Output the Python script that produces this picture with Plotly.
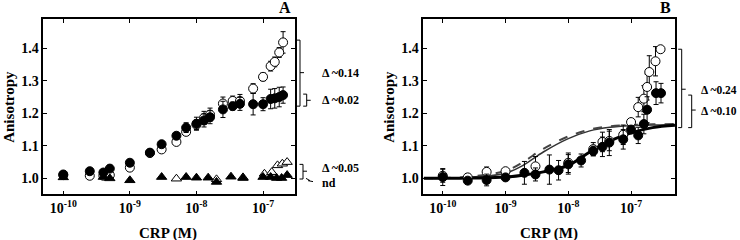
import plotly.graph_objects as go

# ---------------- Panel A data ----------------
xA_fc = [1e-10, 2.5e-10, 4e-10, 5e-10, 1e-9, 2e-9, 3e-9, 5e-9, 7e-9, 1e-8, 1.3e-8, 1.6e-8,
         2.5e-8, 3.5e-8, 4.5e-8, 7.1e-8, 1e-7, 1.3e-7, 1.5e-7, 1.75e-7, 2e-7]
yA_fc = [1.012, 1.022, 1.018, 1.03, 1.048, 1.079, 1.105, 1.131, 1.156, 1.168, 1.178, 1.188,
         1.212, 1.222, 1.229, 1.228, 1.228, 1.244, 1.246, 1.25, 1.256]
eA_fc = [0.006, 0.006, 0.006, 0.008, 0.008, 0.008, 0.008, 0.01, 0.015, 0.02, 0.02, 0.02,
         0.025, 0.012, 0.02, 0.033, 0.02, 0.03, 0.03, 0.03, 0.025]

xA_oc = [1e-10, 2.5e-10, 4e-10, 5e-10, 1e-9, 2e-9, 3e-9, 5e-9, 7e-9, 1e-8, 1.3e-8, 1.6e-8,
         2.5e-8, 3.5e-8, 4.5e-8, 7.1e-8, 1e-7, 1.3e-7, 1.5e-7, 1.75e-7, 2e-7]
yA_oc = [1.01, 1.008, 1.008, 1.01, 1.033, 1.078, 1.089, 1.112, 1.143, 1.165, 1.186, 1.196,
         1.23, 1.238, 1.238, 1.276, 1.312, 1.345, 1.358, 1.387, 1.418]
eA_oc = [0.005, 0.005, 0.005, 0.005, 0.006, 0.006, 0.006, 0.008, 0.01, 0.015, 0.02, 0.02,
         0.02, 0.015, 0.02, 0.015, 0.012, 0.015, 0.015, 0.015, 0.033]

xA_ft = [1e-10, 4e-10, 5e-10, 1e-9, 3e-9, 7e-9, 1e-8, 1.5e-8, 2e-8, 3.3e-8, 5e-8,
         1e-7, 1.3e-7, 1.6e-7, 1.9e-7, 2.3e-7]
yA_ft = [1.003, 1.004, 1.0, 0.994, 1.004, 1.004, 1.002, 1.002, 0.989, 1.005, 1.001,
         1.004, 1.004, 1.001, 1.001, 1.01]

xA_ot = [5e-9, 2e-8, 5e-8, 1.05e-7, 1.35e-7, 1.65e-7, 1.95e-7, 2.3e-7]
yA_ot = [0.999, 0.997, 1.003, 1.014, 1.019, 1.04, 1.045, 1.05]

# ---------------- Panel B data ----------------
xB_fc = [1e-10, 2.5e-10, 5e-10, 1e-9, 2e-9, 3e-9, 5e-9, 7e-9, 1e-8, 1.6e-8, 2.5e-8, 3.5e-8,
         4.5e-8, 7.5e-8, 1e-7, 1.3e-7, 1.6e-7, 1.8e-7, 2.5e-7, 3e-7]
yB_fc = [1.004, 0.993, 0.995, 1.003, 1.017, 1.012, 1.027, 1.025, 1.043, 1.055, 1.084, 1.097,
         1.11, 1.12, 1.15, 1.132, 1.167, 1.211, 1.262, 1.262]
eB_fc = [0.026, 0.005, 0.018, 0.01, 0.035, 0.02, 0.045, 0.03, 0.03, 0.02, 0.015, 0.03,
         0.04, 0.03, 0.01, 0.025, 0.03, 0.04, 0.035, 0.03]

xB_oc = [1e-10, 2.5e-10, 5e-10, 1e-9, 3e-9, 1e-8, 2.5e-8, 3.5e-8, 4.5e-8, 7.5e-8, 1e-7,
         1.3e-7, 1.6e-7, 1.8e-7, 1.95e-7, 2.45e-7, 2.95e-7]
yB_oc = [1.008, 1.003, 1.02, 1.022, 1.037, 1.048, 1.09, 1.112, 1.115, 1.134, 1.173,
         1.219, 1.245, 1.281, 1.327, 1.36, 1.397]
eB_oc = [0.02, 0.01, 0.015, 0.005, 0.03, 0.03, 0.02, 0.03, 0.03, 0.03, 0.01,
         0.03, 0.04, 0.04, 0.05, 0.045, 0.01]

xB_curve = [5e-11, 1e-10, 3e-10, 1e-9, 1.9e-9, 4e-9, 1e-8, 2.2e-8, 4.6e-8, 1e-7, 2.2e-7, 5e-7]
yB_dash = [1.0, 1.001, 1.006, 1.023, 1.05, 1.091, 1.129, 1.15, 1.16, 1.164, 1.166, 1.167]
yB_thin = [1.0, 1.0, 1.004, 1.016, 1.04, 1.081, 1.122, 1.146, 1.157, 1.162, 1.164, 1.165]
yB_thick = [1.0, 1.0, 1.001, 1.004, 1.01, 1.02, 1.04, 1.081, 1.115, 1.14, 1.156, 1.163]

tick_x = [1e-10, 1e-9, 1e-8, 1e-7]
tick_x_text = ["10<sup>-10</sup>", "10<sup>-9</sup>", "10<sup>-8</sup>", "10<sup>-7</sup>"]
tick_y = [1.0, 1.1, 1.2, 1.3, 1.4]
tick_y_text = ["1.0", "1.1", "1.2", "1.3", "1.4"]

FONT = "Liberation Serif"
W, H = 740, 240

fig = go.Figure()


def err(arr):
    return dict(type="data", array=arr, color="black", thickness=1, width=2.5)


def add_pts(x, y, e, symbol, fill, xa, ya):
    fig.add_trace(go.Scatter(
        x=x, y=y, mode="markers", xaxis=xa, yaxis=ya,
        error_y=err(e) if e is not None else None,
        marker=dict(symbol=symbol, size=9, color=fill, line=dict(color="black", width=1)),
        showlegend=False, hoverinfo="skip"))


# Panel A
add_pts(xA_oc, yA_oc, eA_oc, "circle", "white", "x", "y")
add_pts(xA_fc, yA_fc, eA_fc, "circle", "black", "x", "y")
add_pts(xA_ot, yA_ot, None, "triangle-up", "white", "x", "y")
add_pts(xA_ft, yA_ft, None, "triangle-up", "black", "x", "y")

# Panel B curves
fig.add_trace(go.Scatter(x=xB_curve, y=yB_thin, mode="lines", xaxis="x2", yaxis="y2",
                         line=dict(color="#333333", width=1.5, shape="spline"),
                         showlegend=False, hoverinfo="skip"))
fig.add_trace(go.Scatter(x=xB_curve, y=yB_dash, mode="lines", xaxis="x2", yaxis="y2",
                         line=dict(color="#444444", width=2, dash="dash", shape="spline"),
                         showlegend=False, hoverinfo="skip"))
fig.add_trace(go.Scatter(x=xB_curve, y=yB_thick, mode="lines", xaxis="x2", yaxis="y2",
                         line=dict(color="black", width=3, shape="spline"),
                         showlegend=False, hoverinfo="skip"))
add_pts(xB_oc, yB_oc, eB_oc, "circle", "white", "x2", "y2")
add_pts(xB_fc, yB_fc, eB_fc, "circle", "black", "x2", "y2")

yd = [(240 - 194.3) / 240, (240 - 19.3) / 240]
axis_common = dict(showline=True, linecolor="black", linewidth=1.5, mirror="ticks",
                   ticks="inside", ticklen=4, tickcolor="black", tickwidth=1,
                   showgrid=False, zeroline=False,
                   tickfont=dict(family=FONT, size=14, color="black", weight="bold"))

fig.update_layout(
    width=W, height=H, margin=dict(l=0, r=0, t=0, b=0),
    paper_bgcolor="white", plot_bgcolor="white",
    xaxis=dict(type="log", range=[-10.30, -6.52], domain=[43.3 / W, 295 / W],
               tickvals=tick_x, ticktext=tick_x_text, anchor="y", **axis_common),
    yaxis=dict(range=[0.951, 1.489], domain=yd, tickvals=tick_y, ticktext=tick_y_text,
               anchor="x", **axis_common),
    xaxis2=dict(type="log", range=[-10.31, -6.30], domain=[423.3 / W, 675 / W],
                tickvals=tick_x, ticktext=tick_x_text, anchor="y2", **axis_common),
    yaxis2=dict(range=[0.951, 1.489], domain=yd, tickvals=tick_y, ticktext=tick_y_text,
                anchor="x2", **axis_common),
)

annots = []


def txt(x_px, y, yref, text, size=12, xanchor="left", yanchor="middle", angle=0):
    annots.append(dict(x=x_px / W, xref="paper", y=y, yref=yref, text=text, showarrow=False,
                       xanchor=xanchor, yanchor=yanchor, textangle=angle,
                       font=dict(family=FONT, size=size, color="black", weight="bold")))


# axis titles
txt(9, 0.5 * (yd[0] + yd[1]), "paper", "Anisotropy", size=15, xanchor="center", angle=-90)
txt(389, 0.5 * (yd[0] + yd[1]), "paper", "Anisotropy", size=15, xanchor="center", angle=-90)
txt(168, (240 - 233) / 240, "paper", "CRP (M)", size=15, xanchor="center")
txt(549, (240 - 233) / 240, "paper", "CRP (M)", size=15, xanchor="center")
# panel letters
txt(285, (240 - 8) / 240, "paper", "A", size=16, xanchor="center")
txt(665, (240 - 8) / 240, "paper", "B", size=16, xanchor="center")

shapes = []


def bracket(x_px, y0, y1, ym, yref, serif=3.5, tick=4):
    xs = x_px / W
    xl = (x_px - serif) / W
    xr = (x_px + tick) / W
    line = dict(color="black", width=1)
    shapes.append(dict(type="line", xref="paper", yref=yref, x0=xs, x1=xs, y0=y0, y1=y1, line=line))
    shapes.append(dict(type="line", xref="paper", yref=yref, x0=xl, x1=xs, y0=y0, y1=y0, line=line))
    shapes.append(dict(type="line", xref="paper", yref=yref, x0=xl, x1=xs, y0=y1, y1=y1, line=line))
    shapes.append(dict(type="line", xref="paper", yref=yref, x0=xs, x1=xr, y0=ym, y1=ym, line=line))


# Panel A brackets
bracket(300, 1.425, 1.222, 1.325, "y")
txt(320, 1.325, "y", "Δ ~0.14")
bracket(306.7, 1.259, 1.222, 1.24, "y")
txt(320, 1.24, "y", "Δ ~0.02")
bracket(303, 1.043, 0.998, 1.022, "y")
txt(320, 1.031, "y", "Δ ~0.05")
# nd marker
line = dict(color="black", width=1)
shapes.append(dict(type="line", xref="paper", yref="y", x0=306 / W, x1=310 / W, y0=1.0, y1=0.993, line=line))
shapes.append(dict(type="line", xref="paper", yref="y", x0=308 / W, x1=313 / W, y0=0.993, y1=0.99, line=line))
txt(320, 0.986, "y", "nd")

# Panel B brackets
bracket(681.7, 1.397, 1.156, 1.274, "y2")
txt(699, 1.271, "y2", "Δ ~0.24", size=11.5)
bracket(691.7, 1.256, 1.156, 1.21, "y2")
txt(699, 1.207, "y2", "Δ ~0.10", size=11.5)

fig.update_layout(annotations=annots, shapes=shapes)
fig.write_html("out.html")
